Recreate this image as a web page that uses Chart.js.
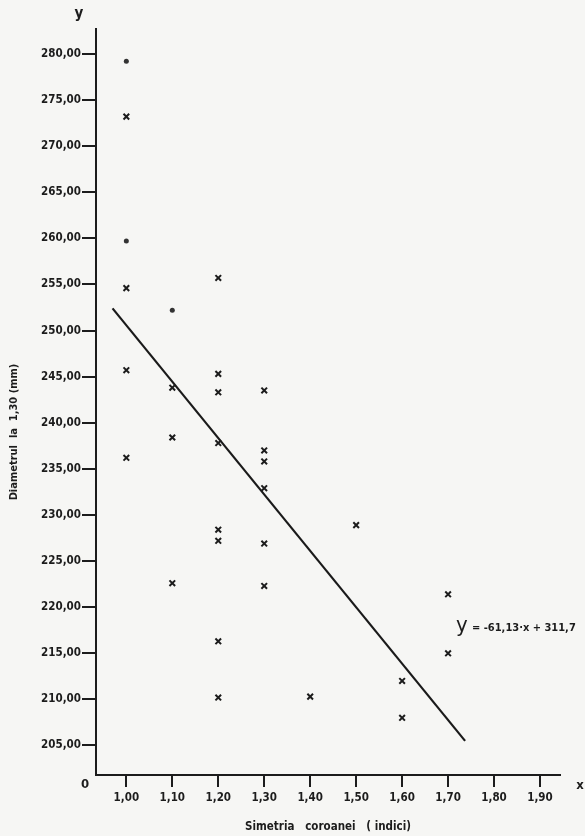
<!DOCTYPE html>
<html>
<head>
<meta charset="utf-8">
<script src="https://cdn.jsdelivr.net/npm/chart.js@4.4.1/dist/chart.umd.min.js"></script>
<style>
  html, body { margin: 0; padding: 0; background: #f6f6f4; }
  #wrap { width: 585px; height: 836px; }
</style>
</head>
<body>
<div id="wrap"><canvas id="scatterChart" width="585" height="836"></canvas></div>
<script>
// simetria coroanei (x) si diametrul la 1,30 m (y)
var crossX = [1.00, 1.00, 1.00, 1.00,
              1.10, 1.10, 1.10,
              1.20, 1.20, 1.20, 1.20, 1.20, 1.20, 1.20, 1.20,
              1.30, 1.30, 1.30, 1.30, 1.30, 1.30,
              1.40, 1.50, 1.60, 1.60, 1.70, 1.70];
var crossY = [273.2, 254.6, 245.7, 236.2,
              243.8, 238.4, 222.6,
              255.7, 245.3, 243.3, 237.8, 228.4, 227.2, 216.3, 210.2,
              243.5, 237.0, 235.8, 232.9, 226.9, 222.3,
              210.3, 228.9, 212.0, 208.0, 221.4, 215.0];

// puncte marcate cu bulina
var dotX = [1.00, 1.00, 1.10];
var dotY = [279.2, 259.7, 252.2];

// capetele dreptei de regresie y = -61,13x + 311,7
var lineX = [0.97, 1.737];
var lineY = [252.4, 205.5];

var xTicks = [1.0, 1.1, 1.2, 1.3, 1.4, 1.5, 1.6, 1.7, 1.8, 1.9];
var yTicks = [205, 210, 215, 220, 225, 230, 235, 240, 245, 250, 255, 260, 265, 270, 275, 280];

var FONT = "'DejaVu Sans Condensed', 'Liberation Sans Narrow', 'DejaVu Sans', sans-serif";
var INK = '#1c1c1c';

function toPoints(xs, ys) {
    var pts = [];
    for (var i = 0; i < xs.length; i++) pts.push({ x: xs[i], y: ys[i] });
    return pts;
}

function comma(v, d) {
    return v.toFixed(d).replace('.', ',');
}

// textele libere de pe figura
var extraText = {
    id: 'extraText',
    afterDraw: function (chart) {
        var ctx = chart.ctx;
        ctx.save();
        ctx.fillStyle = INK;
        ctx.textBaseline = 'middle';

        ctx.font = 'bold 15px ' + FONT;
        ctx.textAlign = 'center';
        ctx.fillText('y', 79, 14);

        ctx.font = 'bold 13px ' + FONT;
        ctx.fillText('0', 85, 785);
        ctx.fillText('x', 580, 786);

        ctx.textAlign = 'left';
        ctx.font = '22px ' + FONT;
        ctx.fillText('y', 456, 626);
        ctx.font = 'bold 11px ' + FONT;
        ctx.fillText('= -61,13·x + 311,7', 472, 628);

        ctx.translate(14, 432);
        ctx.rotate(-Math.PI / 2);
        ctx.textAlign = 'center';
        ctx.font = 'bold 11px ' + FONT;
        ctx.fillText('Diametrul  la  1,30 (mm)', 0, 0);
        ctx.restore();
    }
};

var ctx = document.getElementById('scatterChart').getContext('2d');
var myChart = new Chart(ctx, {
    type: 'scatter',
    data: {
        datasets: [{
            data: toPoints(crossX, crossY),
            pointStyle: 'crossRot',
            pointRadius: 4,
            borderColor: INK,
            borderWidth: 2
        }, {
            data: toPoints(dotX, dotY),
            pointStyle: 'circle',
            pointRadius: 2.5,
            backgroundColor: '#333',
            borderColor: '#333',
            borderWidth: 0
        }, {
            type: 'line',
            data: toPoints(lineX, lineY),
            borderColor: '#1a1a1a',
            borderWidth: 2.2,
            pointRadius: 0,
            fill: false
        }]
    },
    options: {
        responsive: false,
        animation: false,
        layout: { padding: { top: 29, right: 25, left: 0, bottom: 0 } },
        plugins: {
            legend: { display: false },
            tooltip: { enabled: false }
        },
        scales: {
            x: {
                type: 'linear',
                min: 0.934,
                max: 1.9435,
                afterFit: function (scale) { scale.height = 61; },
                afterBuildTicks: function (scale) {
                    scale.ticks = xTicks.map(function (v) { return { value: v }; });
                },
                border: { color: INK, width: 2 },
                grid: { drawOnChartArea: false, drawTicks: true, tickLength: 12, tickColor: INK, lineWidth: 2 },
                ticks: {
                    color: INK,
                    padding: 4,
                    maxRotation: 0,
                    font: { family: FONT, size: 11.5, weight: 'bold' },
                    callback: function (v) { return comma(v, 2); }
                },
                title: {
                    display: true,
                    text: 'Simetria   coroanei   ( indici)',
                    color: INK,
                    padding: { top: 0, bottom: 2 },
                    font: { family: FONT, size: 11.5, weight: 'bold' }
                }
            },
            y: {
                type: 'linear',
                min: 201.8,
                max: 282.7,
                afterFit: function (scale) { scale.width = 96; },
                afterBuildTicks: function (scale) {
                    scale.ticks = yTicks.map(function (v) { return { value: v }; });
                },
                border: { color: INK, width: 2 },
                grid: { drawOnChartArea: false, drawTicks: true, tickLength: 14, tickColor: INK, lineWidth: 2 },
                ticks: {
                    color: INK,
                    padding: 1,
                    font: { family: FONT, size: 11.5, weight: 'bold' },
                    callback: function (v) { return comma(v, 2); }
                }
            }
        }
    },
    plugins: [extraText]
});
</script>
</body>
</html>
